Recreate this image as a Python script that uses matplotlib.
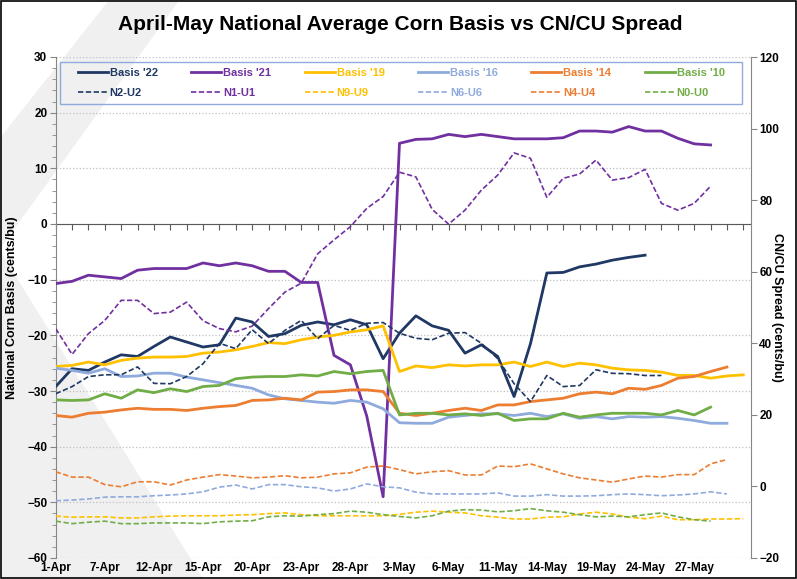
import matplotlib
matplotlib.use("Agg")
import matplotlib.pyplot as plt
from matplotlib.patches import Polygon, Rectangle
from matplotlib.ticker import MultipleLocator

plt.rcParams['font.family'] = ['Liberation Sans', 'DejaVu Sans']
plt.rcParams['font.weight'] = 'bold'

# 43 trading days, labels every 3rd day
n_days = 43
tick_labels = ['1-Apr', '7-Apr', '12-Apr', '15-Apr', '20-Apr', '23-Apr', '28-Apr',
               '3-May', '6-May', '11-May', '14-May', '19-May', '24-May', '27-May']

# national average basis (cents/bu), left axis
basis_22 = [-29.2, -26.0, -26.3, -24.8, -23.5, -23.8, -22.0, -20.3, -21.2, -22.1,
            -21.7, -16.9, -17.6, -20.2, -19.7, -18.2, -17.6, -18.1, -17.2, -18.1,
            -24.2, -19.6, -16.5, -18.3, -19.1, -23.2, -21.7, -23.8, -31.0, -21.5,
            -8.8, -8.7, -7.7, -7.2, -6.5, -6.0, -5.6]
basis_21 = [-10.7, -10.3, -9.2, -9.5, -9.8, -8.3, -8.0, -8.0, -8.0, -7.0,
            -7.5, -7.0, -7.5, -8.5, -8.5, -10.5, -10.5, -23.6, -25.3, -34.5,
            -49.0, 14.5, 15.2, 15.3, 16.1, 15.7, 16.1, 15.7, 15.3, 15.3,
            15.3, 15.5, 16.7, 16.7, 16.5, 17.5, 16.7, 16.7, 15.4, 14.4, 14.2]
basis_19 = [-25.6, -25.4, -24.8, -25.3, -24.5, -24.1, -23.9, -23.9, -23.8, -23.2,
            -23.0, -22.6, -22.0, -21.3, -21.5, -20.8, -20.3, -20.0, -19.4, -19.0,
            -18.3, -26.5, -25.5, -25.8, -25.3, -25.5, -25.3, -25.3, -24.8, -25.6,
            -24.8, -25.6, -25.0, -25.3, -25.9, -26.2, -26.3, -26.6, -27.2, -27.2,
            -27.7, -27.3, -27.1]
basis_16 = [-25.9, -26.3, -26.8, -26.0, -27.4, -27.3, -26.8, -26.8, -27.5, -28.0,
            -28.5, -29.0, -29.5, -30.7, -31.4, -31.7, -32.0, -32.2, -31.7, -32.0,
            -33.2, -35.7, -35.8, -35.8, -34.7, -34.4, -34.1, -34.1, -34.4, -34.0,
            -34.6, -34.1, -34.9, -34.6, -35.0, -34.6, -34.7, -34.6, -34.9, -35.3,
            -35.8, -35.8]
basis_14 = [-34.4, -34.7, -34.0, -33.8, -33.4, -33.1, -33.3, -33.3, -33.5, -33.1,
            -32.8, -32.6, -31.7, -31.6, -31.3, -31.6, -30.2, -30.1, -29.8, -29.8,
            -30.1, -34.0, -34.4, -34.0, -33.5, -33.1, -33.5, -32.5, -32.5, -31.9,
            -31.6, -31.3, -30.5, -30.2, -30.5, -29.5, -29.7, -29.0, -27.7, -27.4,
            -26.5, -25.7]
basis_10 = [-31.6, -31.7, -31.6, -30.5, -31.3, -29.8, -30.3, -29.6, -30.1, -29.2,
            -29.0, -27.8, -27.5, -27.4, -27.4, -27.1, -27.3, -26.5, -26.9, -26.5,
            -26.3, -34.3, -34.0, -34.0, -34.3, -34.1, -34.4, -34.0, -35.3, -35.0,
            -35.0, -34.0, -34.7, -34.3, -34.0, -34.0, -34.0, -34.3, -33.5, -34.3,
            -32.9]

# July/Sept futures spread (cents/bu), right axis
n2_u2 = [25.9, 27.9, 30.7, 31.2, 31.2, 33.4, 28.8, 28.7, 30.7, 34.3,
         40.0, 38.5, 43.8, 39.9, 43.6, 46.4, 41.3, 45.0, 43.6, 45.6,
         45.8, 42.8, 41.4, 41.0, 42.8, 43.0, 40.0, 35.7, 28.7, 23.7,
         31.0, 27.9, 28.2, 32.6, 31.6, 31.5, 31.0, 31.0]
n1_u1 = [44.1, 36.9, 42.7, 46.4, 52.0, 52.0, 48.3, 48.7, 51.5, 46.3,
         44.1, 43.2, 44.8, 49.7, 54.3, 56.8, 65.0, 68.9, 72.6, 77.7,
         81.0, 87.8, 86.5, 77.4, 73.3, 77.2, 82.8, 87.0, 93.2, 91.7,
         80.8, 86.1, 87.3, 91.2, 85.6, 86.3, 88.6, 79.1, 77.2, 79.1, 83.9]
n9_u9 = [-8.3, -8.6, -8.5, -8.5, -8.8, -8.8, -8.5, -8.3, -8.2, -8.2,
         -8.2, -8.0, -7.9, -7.6, -7.4, -7.9, -8.2, -8.2, -8.2, -8.2,
         -8.2, -7.8, -7.2, -6.9, -7.2, -7.4, -8.2, -8.6, -9.1, -9.1,
         -8.6, -8.5, -7.7, -7.2, -7.7, -8.6, -9.0, -8.3, -9.3, -9.3,
         -9.1, -9.1, -9.0]
n6_u6 = [-4.0, -3.8, -3.5, -3.0, -2.9, -2.9, -2.6, -2.4, -2.1, -1.5,
         -0.2, 0.4, -0.7, 0.5, 0.5, -0.1, -0.4, -1.3, -0.7, 0.7,
         -0.1, -0.4, -1.6, -2.1, -2.1, -2.1, -2.1, -1.8, -2.7, -2.7,
         -2.3, -2.7, -2.7, -2.6, -2.3, -2.1, -2.3, -2.6, -2.4, -2.1,
         -1.5, -2.1]
n4_u4 = [4.1, 2.6, 2.6, 0.5, -0.1, 1.3, 1.3, 0.4, 1.8, 2.6,
         3.3, 2.9, 2.4, 2.6, 3.0, 2.4, 2.6, 3.5, 3.8, 5.4,
         5.7, 4.7, 3.5, 4.1, 4.4, 3.2, 3.2, 5.7, 5.5, 6.3,
         4.9, 3.5, 2.4, 1.8, 1.2, 2.1, 2.9, 2.6, 3.3, 3.3,
         6.3, 7.5]
n0_u0 = [-9.7, -10.4, -10.0, -9.7, -10.4, -10.4, -10.2, -10.2, -10.2, -10.4,
         -9.9, -9.7, -9.6, -8.5, -8.2, -8.3, -7.9, -7.6, -6.9, -7.2,
         -7.9, -8.4, -8.8, -8.2, -6.9, -6.5, -6.6, -7.1, -6.8, -6.2,
         -6.8, -7.2, -7.9, -8.5, -8.3, -8.5, -7.9, -7.4, -8.5, -9.3,
         -9.7]

years = ["'22", "'21", "'19", "'16", "'14", "'10"]
colors = ['#1f3864', '#7030a0', '#ffc000', '#8faadc', '#ed7d31', '#70ad47']
basis = [basis_22, basis_21, basis_19, basis_16, basis_14, basis_10]
spreads = [n2_u2, n1_u1, n9_u9, n6_u6, n4_u4, n0_u0]
spread_names = ['N2-U2', 'N1-U1', 'N9-U9', 'N6-U6', 'N4-U4', 'N0-U0']

W, H = 797, 579
fig = plt.figure(figsize=(W / 100, H / 100), dpi=100, facecolor='white')

# faint chevron watermark behind the plot (two arms, in pixels from top-left)
upper = [(113, -5), (183, -5), (-60, 332), (-60, 214)]
lower = [(-60, 154), (210, 590), (-60, 590)]
for arm in (upper, lower):
    fig.add_artist(Polygon([(px / W, 1 - py / H) for px, py in arm], closed=True,
                           transform=fig.transFigure, facecolor='#f0f0f0',
                           edgecolor='none', zorder=-5))
# outer chart border
fig.add_artist(Rectangle((0.001, 0.001), 0.998, 0.998, transform=fig.transFigure,
                         fill=False, edgecolor='black', lw=1.2, zorder=10))

ax = fig.add_axes([55.7 / W, 1 - 558 / H, (751 - 55.7) / W, (558 - 57) / H])
ax.set_facecolor('none')
ax2 = ax.twinx()

x = list(range(n_days))
handles = []
for yr, c, b, s, nm in zip(years, colors, basis, spreads, spread_names):
    h1, = ax.plot(x[:len(b)], b, color=c, lw=2.0, label='Basis ' + yr, zorder=3)
    h2, = ax2.plot(x[:len(s)], s, color=c, lw=1.2, ls=(0, (3.2, 1.5)), label=nm)
    handles += [h1, h2]

ax.set_xlim(0, n_days - 0.53)
ax.set_ylim(-60, 30)
ax2.set_ylim(-20, 120)

ax.yaxis.set_major_locator(MultipleLocator(10))
ax.yaxis.set_minor_locator(MultipleLocator(2))
ax2.yaxis.set_major_locator(MultipleLocator(20))
ax.grid(axis='y', color='#bfbfbf', ls=':', lw=0.9)

for a in (ax, ax2):
    a.spines['top'].set_visible(False)
ax.spines['right'].set_visible(False)
ax2.spines['left'].set_visible(False)
ax2.spines['bottom'].set_visible(False)
ax.spines['left'].set_color('#868686')
ax2.spines['right'].set_color('#868686')

# category axis crosses at basis = 0
ax.spines['bottom'].set_position(('data', 0))
ax.spines['bottom'].set_color('#595959')
ax.spines['bottom'].set_zorder(2)
ax.set_xticks(x)
ax.tick_params(axis='x', direction='out', length=4, color='#595959',
               labelbottom=False)
ax.tick_params(axis='y', which='major', length=4, color='#868686',
               labelsize=8.5, pad=2)
ax.tick_params(axis='y', which='minor', length=3, color='#868686')
ax2.tick_params(axis='y', length=4, color='#868686', labelsize=8.5, pad=2)

sec = ax.secondary_xaxis('bottom')
sec.set_xticks(x[:3 * len(tick_labels):3], tick_labels)
sec.tick_params(length=0, labelsize=8.5, pad=3)
sec.spines['bottom'].set_visible(False)

ax.set_ylabel('National Corn Basis (cents/bu)', fontsize=9, fontweight='bold')
ax.yaxis.set_label_coords(-0.054, 0.5)
ax2.set_ylabel('CN/CU Spread (cents/bu)', fontsize=9, fontweight='bold',
               rotation=270, va='center')
ax2.yaxis.set_label_coords(1.038, 0.5)

fig.text(0.502, 1 - 25 / H, 'April-May National Average Corn Basis vs CN/CU Spread',
         ha='center', va='center', fontsize=15, fontweight='bold')

# legend box, entries laid out in six columns inside it
ax2.add_patch(Rectangle((0.006, 0.906), 0.981, 0.084, transform=ax2.transAxes,
                        fill=False, edgecolor='#8faadc', lw=1.0, zorder=5))
leg = ax2.legend(handles=handles, ncol=6, mode='expand',
                 bbox_to_anchor=(0.032, 0.906, 0.93, 0.084), loc='center',
                 borderaxespad=0, borderpad=0, fontsize=8, frameon=False,
                 handlelength=2.7, handletextpad=0.15, columnspacing=0.5,
                 labelspacing=0.85)
for txt, h in zip(leg.get_texts(), handles):
    txt.set_color(h.get_color())
    txt.set_fontweight('bold')

fig.savefig('out.png', dpi=100)
